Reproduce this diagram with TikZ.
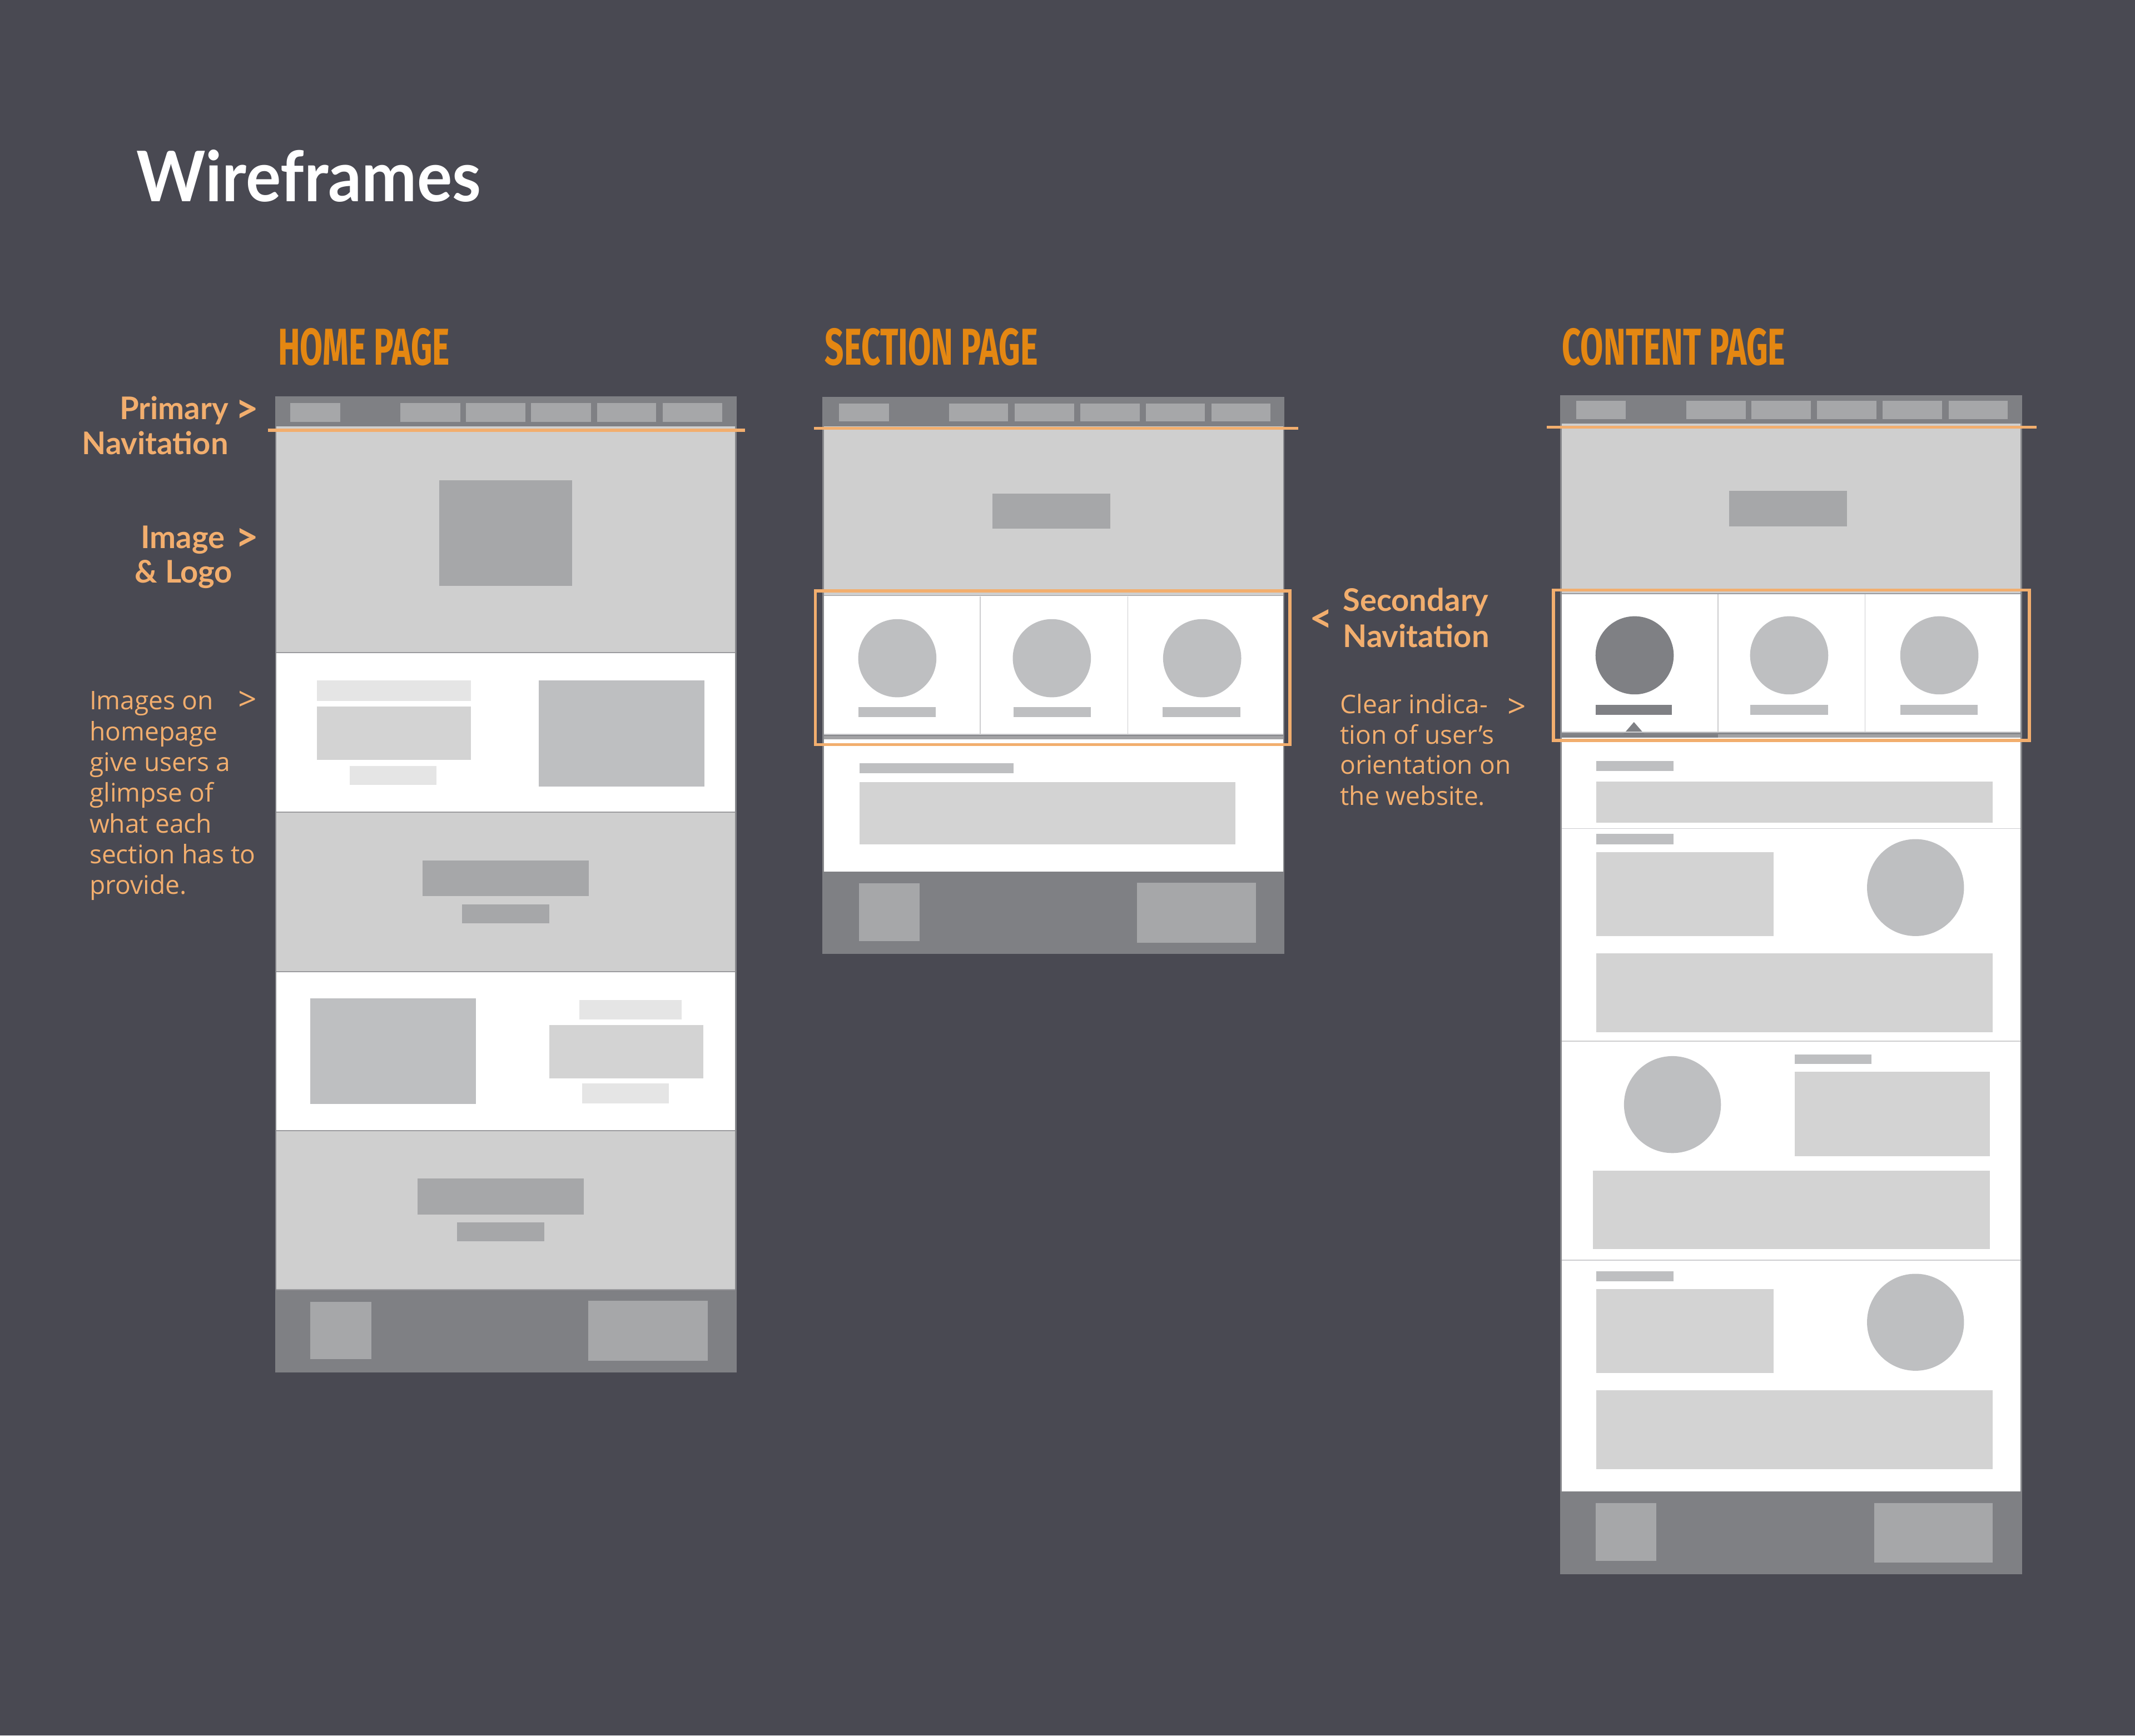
\documentclass[tikz,border=0pt]{standalone}
\usepackage{graphicx}
\usepackage{fontspec}
\newfontfamily\labelfont{Lato}
\newfontfamily\bodyfont{Open Sans}
\newfontfamily\headfont{Fira Sans}
\newlength\wfpx
\setlength\wfpx{0.025cm}

\definecolor{bgc}{RGB}{73,73,82}
\definecolor{framec}{RGB}{134,135,139}
\definecolor{navc}{RGB}{127,128,132}
\definecolor{itemc}{RGB}{166,167,169}
\definecolor{heroc}{RGB}{207,207,207}
\definecolor{imgc}{RGB}{190,191,193}
\definecolor{boxc}{RGB}{211,211,211}
\definecolor{lightc}{RGB}{229,229,229}
\definecolor{divc}{RGB}{155,155,158}
\definecolor{thinc}{RGB}{205,205,207}
\definecolor{barc}{RGB}{163,163,165}
\definecolor{horange}{RGB}{228,135,18}
\definecolor{lorange}{RGB}{242,174,110}

\tikzset{
  lbl/.style={text=lorange, font=\labelfont\bfseries\fontsize{16.3}{20}\selectfont, inner sep=0},
  body/.style={text=lorange, font=\bodyfont\fontsize{13.4}{16}\selectfont, inner sep=0},
  chev/.style={text=lorange, font=\labelfont\bfseries\fontsize{21}{24}\selectfont, inner sep=0, anchor=center},
  bodychev/.style={text=lorange, font=\bodyfont\fontsize{17}{20}\selectfont, inner sep=0, anchor=center},
  heading/.style={text=horange, font=\headfont\bfseries, inner sep=0, anchor=base west},
  marker/.style={draw=lorange, line width=1.6pt},
  divider/.style={draw=divc, line width=0.5pt},
  thin/.style={draw=thinc, line width=0.4pt},
}

\begin{document}
\begin{tikzpicture}[x=0.025cm, y=-0.025cm]
\fill[bgc] (0,0) rectangle (1568,1275);
\useasboundingbox (0,0) rectangle (1568,1275);

% ---------- titles ----------
\node[text=white, font=\labelfont\bfseries, inner sep=0, anchor=base west] (title) at (100,148) {\resizebox{253\wfpx}{38\wfpx}{Wireframes}};
\node[heading] (hhome) at (204,268) {\resizebox{126\wfpx}{27\wfpx}{HOME PAGE}};
\node[heading] (hsection) at (605.6,268) {\resizebox{156.4\wfpx}{27\wfpx}{SECTION PAGE}};
\node[heading] (hcontent) at (1147,268) {\resizebox{164\wfpx}{27\wfpx}{CONTENT PAGE}};

% ---------- home page ----------
\fill[framec] (202,291) rectangle (541,1008.2);
\fill[navc] (202,291) rectangle (541,313);
\foreach \a/\b in {213/250, 294/338, 342/386, 390/434, 438.6/482, 486.7/530.4}
  \fill[itemc] (\a,296.2) rectangle (\b,309.8);
\fill[heroc] (203,313) rectangle (540,479.4);
\fill[itemc] (322.6,352.8) rectangle (420.2,430.2);
\fill[white] (203,479.4) rectangle (540,596.6);
\fill[lightc] (232.8,500) rectangle (346,515);
\fill[boxc] (232.8,519) rectangle (346,558.3);
\fill[lightc] (257,562.5) rectangle (320.5,576.5);
\fill[imgc] (395.5,500) rectangle (517.4,577.6);
\fill[heroc] (203,596.6) rectangle (540,713.8);
\fill[itemc] (310.5,632.3) rectangle (432.3,658.4);
\fill[itemc] (339.2,664.2) rectangle (403.4,678.3);
\fill[white] (203,713.8) rectangle (540,830.6);
\fill[imgc] (227.8,733.4) rectangle (349.6,811);
\fill[lightc] (425.5,734.4) rectangle (500.6,749);
\fill[boxc] (403.5,752.9) rectangle (516.5,792);
\fill[lightc] (427.6,796) rectangle (491.3,810.6);
\fill[heroc] (203,830.6) rectangle (540,947.3);
\fill[itemc] (306.6,865.7) rectangle (428.7,892);
\fill[itemc] (335.8,898) rectangle (399.6,912);
\fill[navc] (202,947.3) rectangle (541,1008.2);
\fill[itemc] (227.8,956.3) rectangle (272.6,998.4);
\fill[itemc] (432,955.6) rectangle (519.8,999.6);
\foreach \y in {479.4, 596.6, 713.8, 830.6, 947.3}
  \draw[divider] (203,\y) -- (540,\y);
\draw[marker] (196.7,316) -- (547,316);

% ---------- section page ----------
\fill[framec] (604,291.7) rectangle (943.3,700.5);
\fill[navc] (604,291.7) rectangle (943.3,313);
\foreach \a/\b in {616/652.8, 697/740.5, 745/788.7, 793.4/836.9, 841.6/885, 889.8/933.2}
  \fill[itemc] (\a,296.5) rectangle (\b,309.4);
\fill[heroc] (605,313) rectangle (942.3,437.5);
\fill[itemc] (729,362.5) rectangle (815.5,388.5);
\fill[white] (605,437.5) rectangle (942.3,539.4);
\draw[divider] (605,437.5) -- (942.3,437.5);
\foreach \x in {719.9, 828.3}
  \draw[thin] (\x,438) -- (\x,539.4);
\foreach \x/\a/\b in {659/630.4/687.2, 772.5/744.5/801, 882.9/854/911} {
  \fill[imgc] (\x,483.5) circle[radius=0.7175cm];
  \fill[imgc] (\a,519.5) rectangle (\b,526.8);
}
\draw[thin] (605,539.4) -- (942.3,539.4);
\fill[barc] (605,540.5) rectangle (942.3,543);
\fill[white] (605,543) rectangle (942.3,640.3);
\fill[imgc] (631.3,560.7) rectangle (744.4,568);
\fill[boxc] (631.3,574.5) rectangle (907.5,620.3);
\fill[navc] (604,640.3) rectangle (943.3,700.5);
\fill[itemc] (630.7,648.9) rectangle (675.3,691.3);
\fill[itemc] (835,648.4) rectangle (922.5,692.4);
\draw[marker] (597.8,314.6) -- (953.5,314.6);
\draw[marker] (598.8,434) rectangle (947.3,547);

% ---------- content page ----------
\fill[framec] (1145.8,290.4) rectangle (1484.9,1156.3);
\fill[navc] (1145.8,290.4) rectangle (1484.9,311);
\foreach \a/\b in {1157.6/1194, 1238.3/1282, 1286.4/1330, 1334.6/1378, 1382.8/1426.3, 1431/1474.5}
  \fill[itemc] (\a,294.4) rectangle (\b,307.7);
\fill[heroc] (1146.8,311) rectangle (1483.9,436);
\fill[itemc] (1270,360.6) rectangle (1356.6,386.7);
\fill[white] (1146.8,436) rectangle (1483.9,537.8);
\draw[divider] (1146.8,436) -- (1483.9,436);
\foreach \x in {1261.8, 1369.8}
  \draw[thin] (\x,436.5) -- (\x,537.8);
\fill[navc] (1200.5,481.4) circle[radius=0.7175cm];
\fill[navc] (1172,517.8) rectangle (1228,525);
\foreach \x/\a/\b in {1314/1285.6/1342.5, 1424.3/1395.6/1452.4} {
  \fill[imgc] (\x,481.4) circle[radius=0.7175cm];
  \fill[imgc] (\a,517.8) rectangle (\b,525);
}
\fill[navc] (1192.2,539.4) -- (1200,530.4) -- (1207.8,539.4) -- cycle;
\draw[thin] (1146.8,537.8) -- (1483.9,537.8);
\fill[navc] (1146.8,539.4) rectangle (1261.8,542);
\fill[barc] (1261.8,539.4) rectangle (1483.9,542);
\fill[white] (1146.8,542) rectangle (1483.9,1095.6);
% block 1
\fill[imgc] (1172.4,559) rectangle (1229,566.3);
\fill[boxc] (1172.4,574.3) rectangle (1463.5,604.4);
% block 2
\fill[imgc] (1172.4,612.7) rectangle (1229,620.1);
\fill[boxc] (1172.4,625.8) rectangle (1302.6,687.6);
\fill[imgc] (1406.8,652) circle[radius=0.89cm];
\fill[boxc] (1172.4,700.3) rectangle (1463.5,758.2);
% block 3
\fill[imgc] (1228.3,811.4) circle[radius=0.89cm];
\fill[imgc] (1318,774.5) rectangle (1374.5,781.6);
\fill[boxc] (1318,787.3) rectangle (1461.5,849.3);
\fill[boxc] (1170,860) rectangle (1461.5,917.7);
% block 4
\fill[imgc] (1172.4,934) rectangle (1229,941.2);
\fill[boxc] (1172.4,947) rectangle (1302.6,1008.5);
\fill[imgc] (1406.8,971.3) circle[radius=0.89cm];
\fill[boxc] (1172.4,1021.3) rectangle (1463.5,1079.2);
\foreach \y in {608.7, 764.8, 925.7}
  \draw[thin] (1146.8,\y) -- (1483.9,\y);
\fill[navc] (1145.8,1095.6) rectangle (1484.9,1156.3);
\fill[itemc] (1171.9,1104.3) rectangle (1216.6,1146.6);
\fill[itemc] (1376.3,1104) rectangle (1463.5,1147.7);
\draw[marker] (1136,313.8) -- (1495.7,313.8);
\draw[marker] (1140.8,433.5) rectangle (1490.4,544);

% ---------- notes ----------
\node[lbl, anchor=base east] (prim1) at (168,308) {Primary};
\node[lbl, anchor=base east] (prim2) at (168,334) {Navitation};
\node[chev] (primc) at (181.4,302) {>};
\node[lbl, anchor=base east] (img1) at (165.4,403) {Image};
\node[lbl, anchor=base east] (img2) at (171,428.3) {\& Logo};
\node[chev] (imgcv) at (181.4,396.5) {>};
\foreach \t/\y [count=\i] in {Images on/521.4, homepage/544, give users a/566.6, glimpse of/589.2, what each/611.8, section has to/634.4, provide./657}
  \node[body, anchor=base west] (hnote\i) at (65.5,\y) {\t};
\node[bodychev] (hnotec) at (181.7,515) {>};

\node[chev] (secc) at (970.2,456) {<};
\node[lbl, anchor=base west] (sec1) at (986,449) {Secondary};
\node[lbl, anchor=base west] (sec2) at (986,475.3) {Navitation};
\foreach \t/\y [count=\i] in {Clear indica-/524, tion of user’s/546.4, orientation on/568.8, the website./591.3}
  \node[body, anchor=base west] (snote\i) at (984,\y) {\t};
\node[bodychev] (snotec) at (1114.2,520) {>};
\end{tikzpicture}
\end{document}
